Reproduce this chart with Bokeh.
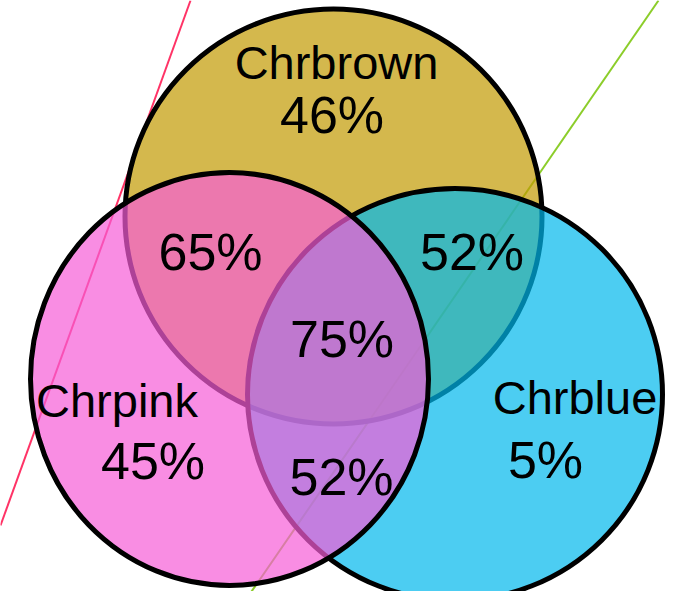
from bokeh.plotting import figure
from bokeh.models import Range1d, ColumnDataSource
from bokeh.core.properties import value
from bokeh.embed import file_html
from bokeh.resources import INLINE

# ---- data ----
set_names = ["Chrbrown", "Chrblue", "Chrpink"]
set_values = ["46%", "5%", "45%"]
overlap_names = ["Chrbrown & Chrpink", "Chrbrown & Chrblue", "All three", "Chrpink & Chrblue"]
overlap_values = ["65%", "52%", "75%", "52%"]

# ---- layout (pixel-like coordinate system, y downward) ----
circle_x = [333, 454.5, 229]
circle_y = [216, 394, 378.5]
circle_w = [417, 415, 398]
circle_h = [415, 412, 413]
circle_fill = ["#C29A02", "#00B8EC", "#F65CD7"]

NAME_SIZE = 47
VALUE_SIZE = 52
BASE_SHIFT = 0.35  # renderer baseline offset, in em

name_x = [336, 574.5, 116.5]
name_base = [78, 413, 416]
value_x = [331.5, 545, 152.5]
value_base = [133, 478, 479]
overlap_x = [210, 471.5, 341.5, 341]
overlap_base = [270, 270, 357, 495]

name_y = [b - BASE_SHIFT * NAME_SIZE for b in name_base]
value_y = [b - BASE_SHIFT * VALUE_SIZE for b in value_base]
overlap_y = [b - BASE_SHIFT * VALUE_SIZE for b in overlap_base]

red_line_x = [190, 0]
red_line_y = [0, 525]
green_line_x = [658, 240]
green_line_y = [0, 607]

p = figure(width=666, height=591,
           x_range=Range1d(0, 666), y_range=Range1d(591, 0),
           output_backend="svg", toolbar_location=None, min_border=0,
           x_axis_location=None, y_axis_location=None)
p.grid.visible = False
p.outline_line_color = None
p.background_fill_color = "white"
p.border_fill_color = "white"

p.line(red_line_x, red_line_y, line_color="#FF3366", line_width=2)
p.line(green_line_x, green_line_y, line_color="#8CCD2A", line_width=2)

src = ColumnDataSource(dict(x=circle_x, y=circle_y, w=circle_w, h=circle_h,
                            c=circle_fill, name=set_names))
p.ellipse(x="x", y="y", width="w", height="h", source=src,
          fill_color="c", fill_alpha=0.7, line_color="black", line_width=5)

font = value("Liberation Sans")
p.text(x=name_x, y=name_y, text=set_names, text_align="center",
       text_baseline="alphabetic", text_font=font,
       text_font_size=f"{NAME_SIZE}px", text_color="black")
p.text(x=value_x, y=value_y, text=set_values, text_align="center",
       text_baseline="alphabetic", text_font=font,
       text_font_size=f"{VALUE_SIZE}px", text_color="black")
p.text(x=overlap_x, y=overlap_y, text=overlap_values, text_align="center",
       text_baseline="alphabetic", text_font=font,
       text_font_size=f"{VALUE_SIZE}px", text_color="black")

open("out.html", "w").write(file_html(p, INLINE))
